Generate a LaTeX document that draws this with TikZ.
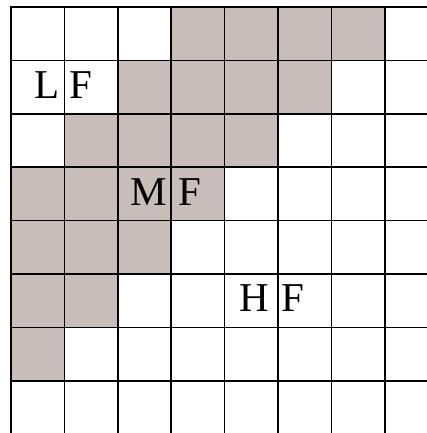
\documentclass[tikz,border=0pt]{standalone}
\usepackage{fontspec}
\setmainfont{Liberation Serif}
\definecolor{shade}{RGB}{200,189,185}
\begin{document}
\begin{tikzpicture}[x=1pt,y=1pt,
  cellfill/.style={fill=shade,draw=none},
  gridline/.style={line width=1.6pt,black},
  lbl/.style={inner sep=0pt,font=\fontsize{41}{41}\selectfont}]
\useasboundingbox (0,0) rectangle (427,433);
\def\s{53.4}
\def\ox{11}
\def\oy{426}
% shaded cells: row/col list
\foreach \r/\c in {0/3,0/4,0/5,0/6,
                   1/2,1/3,1/4,1/5,
                   2/1,2/2,2/3,2/4,
                   3/0,3/1,3/2,3/3,
                   4/0,4/1,4/2,
                   5/0,5/1,
                   6/0}
  \fill[cellfill] ({\ox+\c*\s},{\oy-\r*\s}) rectangle ({\ox+(\c+1)*\s},{\oy-(\r+1)*\s});
% grid
\foreach \c in {0,...,7}
  \draw[gridline] ({\ox+\c*\s},\oy+0.8) -- ({\ox+\c*\s},0);
\foreach \r in {0,...,7}
  \draw[gridline] (\ox-0.8,{\oy-\r*\s}) -- (427,{\oy-\r*\s});
% labels
\node[lbl,anchor=base east] (L1) at (59.5,334.7) {L};
\node[lbl,anchor=base west] (F1) at (69.5,334.7) {F};
\node[lbl,anchor=base east] (M1) at (167,227) {M};
\node[lbl,anchor=base west] (F2) at (178,227) {F};
\node[lbl,anchor=base east] (H1) at (269.8,121.3) {H};
\node[lbl,anchor=base west] (F3) at (281.2,121.3) {F};
\end{tikzpicture}
\end{document}
